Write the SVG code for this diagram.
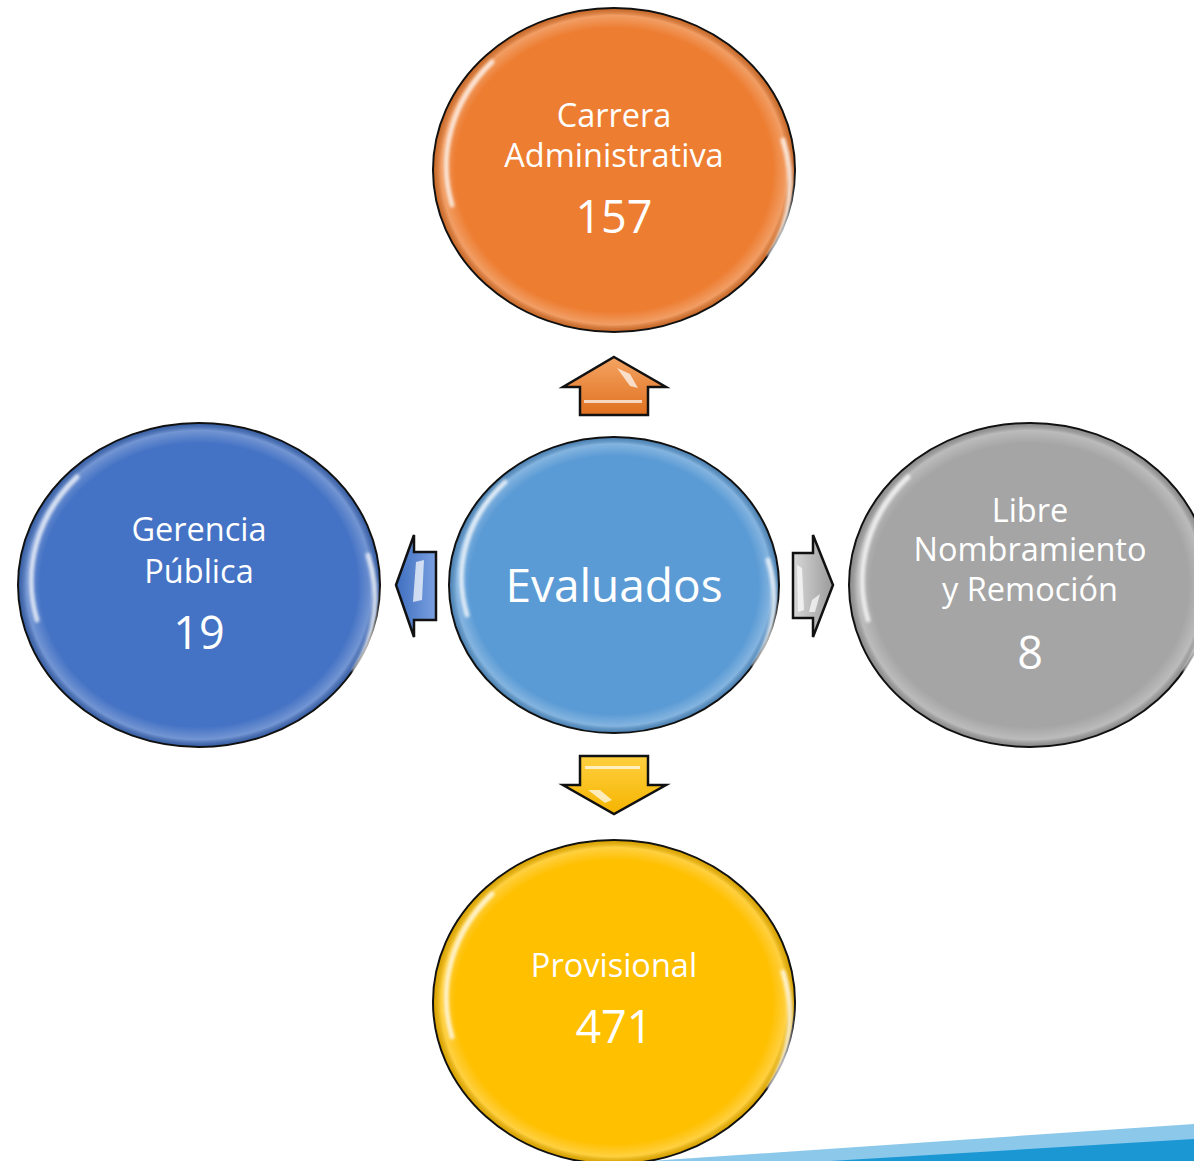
<svg xmlns="http://www.w3.org/2000/svg" width="1194" height="1161" viewBox="0 0 1194 1161">
<style>
.c{stroke:#111;stroke-width:2}
.t{font-family:"Open Sans","Liberation Sans",Arial,sans-serif;fill:#fff;text-anchor:middle}
.l{font-size:32.5px}
.n{font-size:45px}
.hl{fill:none;stroke:#fff;stroke-width:5;stroke-linecap:round;opacity:0.75;filter:url(#blur)}
.ar{stroke:#111;stroke-width:2.5;stroke-linejoin:miter}
.fac{fill:#fff;opacity:0.7}
</style>
<defs>
<filter id="blur" x="-20%" y="-20%" width="140%" height="140%"><feGaussianBlur stdDeviation="1.6"/></filter>
<radialGradient id="rim" cx="0.5" cy="0.5" r="0.5">
<stop offset="0.88" stop-color="#fff" stop-opacity="0"/>
<stop offset="0.96" stop-color="#fff" stop-opacity="0.25"/>
<stop offset="1" stop-color="#000" stop-opacity="0.15"/>
</radialGradient>
<linearGradient id="gO" x1="0" y1="0" x2="0" y2="1"><stop offset="0" stop-color="#F4A463"/><stop offset="1" stop-color="#E0701F"/></linearGradient>
<linearGradient id="gY" x1="0" y1="0" x2="0" y2="1"><stop offset="0" stop-color="#FFD040"/><stop offset="1" stop-color="#F5B400"/></linearGradient>
<linearGradient id="gB" x1="0" y1="0" x2="1" y2="0"><stop offset="0" stop-color="#3F6FC0"/><stop offset="1" stop-color="#7AA0E0"/></linearGradient>
<linearGradient id="gG" x1="0" y1="0" x2="1" y2="0"><stop offset="0" stop-color="#D8D8D8"/><stop offset="1" stop-color="#9A9A9A"/></linearGradient>
</defs>

<g id="background">
<polygon points="650,1161 1194,1124 1194,1161" fill="#8CC8EA"/>
<polygon points="830,1161 1194,1139 1194,1161" fill="#1B97D4"/>
</g>

<g id="connectors">
<g id="arrow-up">
<polygon class="ar" fill="url(#gO)" points="614,357 666,387 648,387 648,415 580,415 580,387 563,387"/>
<polygon class="fac" points="617,368 630,374 638,388 630,386" opacity="0.8"/>
<rect class="fac" x="584" y="400" width="58" height="3" opacity="0.6"/>
</g>
<g id="arrow-down">
<polygon class="ar" fill="url(#gY)" points="580,756 648,756 648,785 666,785 614,814 563,785 580,785"/>
<rect class="fac" x="585" y="766" width="55" height="3" opacity="0.6"/>
<polygon class="fac" points="588,790 600,790 612,800 605,803" opacity="0.8"/>
</g>
<g id="arrow-left">
<polygon class="ar" fill="url(#gB)" points="396,585 414,535 414,552 436,552 436,620 414,620 414,637"/>
<polygon class="fac" points="416,562 424,560 422,600 413,602" opacity="0.8"/>
</g>
<g id="arrow-right">
<polygon class="ar" fill="url(#gG)" points="793,553 813,553 813,535 833,585 813,637 813,618 793,618"/>
<polygon class="fac" points="797,565 802,568 804,610 798,612" opacity="0.9"/>
<polygon class="fac" points="812,600 820,594 815,612 809,612" opacity="0.9"/>
</g>
</g>

<g id="node-carrera">
<ellipse class="c" cx="614" cy="170" rx="181" ry="162" fill="#ED7D31"/>
<ellipse cx="614" cy="170" rx="180" ry="161" fill="url(#rim)"/>
<path class="hl" d="M452,205 A172,153 0 0 1 492,62"/>
<path class="hl" d="M783,140 A172,153 0 0 1 770,255"/>
<text class="t l" x="614" y="127">Carrera</text>
<text class="t l" x="614" y="167">Administrativa</text>
<text class="t n" x="614" y="233">157</text>
</g>

<g id="node-evaluados">
<ellipse class="c" cx="614" cy="585" rx="165" ry="148" fill="#5B9BD5"/>
<ellipse cx="614" cy="585" rx="164" ry="147" fill="url(#rim)"/>
<path class="hl" d="M467,615 A156,139 0 0 1 505,482"/>
<path class="hl" d="M768,560 A156,139 0 0 1 755,665"/>
<text class="t" x="614" y="602" font-size="46">Evaluados</text>
</g>

<g id="node-gerencia">
<ellipse class="c" cx="199" cy="585" rx="181" ry="162" fill="#4472C4"/>
<ellipse cx="199" cy="585" rx="180" ry="161" fill="url(#rim)"/>
<path class="hl" d="M37,620 A172,153 0 0 1 77,477"/>
<path class="hl" d="M368,555 A172,153 0 0 1 355,670"/>
<text class="t l" x="199" y="541">Gerencia</text>
<text class="t l" x="199" y="583">Pública</text>
<text class="t n" x="199" y="649">19</text>
</g>

<g id="node-libre">
<ellipse class="c" cx="1030" cy="585" rx="181" ry="162" fill="#A5A5A5"/>
<ellipse cx="1030" cy="585" rx="180" ry="161" fill="url(#rim)"/>
<path class="hl" d="M868,620 A172,153 0 0 1 908,477"/>
<path class="hl" d="M1199,555 A172,153 0 0 1 1186,670"/>
<text class="t l" x="1030" y="522">Libre</text>
<text class="t l" x="1030" y="561">Nombramiento</text>
<text class="t l" x="1030" y="601">y Remoción</text>
<text class="t n" x="1030" y="669">8</text>
</g>

<g id="node-provisional">
<ellipse class="c" cx="614" cy="1002" rx="181" ry="162" fill="#FFC000"/>
<ellipse cx="614" cy="1002" rx="180" ry="161" fill="url(#rim)"/>
<path class="hl" d="M452,1037 A172,153 0 0 1 492,894"/>
<path class="hl" d="M783,972 A172,153 0 0 1 770,1087"/>
<text class="t l" x="614" y="977">Provisional</text>
<text class="t n" x="614" y="1043">471</text>
</g>
</svg>
